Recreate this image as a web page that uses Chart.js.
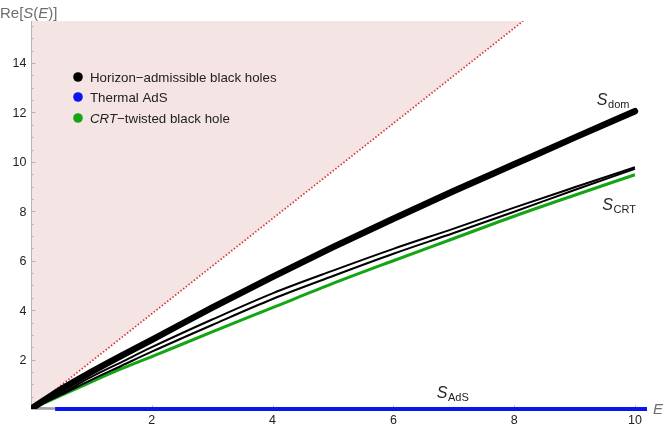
<!DOCTYPE html>
<html>
<head>
<meta charset="utf-8">
<script src="https://cdn.jsdelivr.net/npm/chart.js@4.4.1/dist/chart.umd.min.js"></script>
<style>
html, body { margin: 0; padding: 0; background: #fff; }
canvas { display: block; }
</style>
</head>
<body>
<canvas id="myChart" width="664" height="429"></canvas>
<script>
// values
const energies = [0, 0.5, 1, 1.5, 2, 3, 4, 5, 6, 7, 8, 9, 10];
const domEntropy = [0, 0.8, 1.5, 2.16, 2.8, 4.1, 5.35, 6.55, 7.7, 8.82, 9.9, 10.98, 12.05];
const branchA = [0, 0.62, 1.3, 1.9, 2.5, 3.62, 4.68, 5.6, 6.48, 7.3, 8.15, 8.97, 9.78];
const branchB = [0, 0.58, 1.18, 1.75, 2.32, 3.4, 4.45, 5.38, 6.28, 7.12, 7.98, 8.86, 9.72];
const crtEntropy = [0, 0.55, 1.1, 1.63, 2.12, 3.12, 4.1, 5.08, 6.0, 6.9, 7.8, 8.65, 9.48];
const adsEnergies = [0.4, 10.2];
const adsEntropy = [0, 0];
const ghostEnergies = [0, 0.9];
const ghostEntropy = [0.05, 0];
const boundEnergies = [0, 8.15];
const boundEntropy = [0, 15.7];

const xTicks = [2, 4, 6, 8, 10];
const yTicks = [2, 4, 6, 8, 10, 12, 14];
const legendLabels = ['Horizon\u2212admissible black holes', 'Thermal AdS', '\u2212twisted black hole'];
const legendColors = ['#000000', '#0a14f0', '#14a514'];

function pts(xs, ys) {
    return xs.map((x, i) => ({x: x, y: ys[i]}));
}

const FONT = '"Liberation Sans", Arial, sans-serif';

const axesPlugin = {
    id: 'mmaAxes',
    beforeDatasetsDraw(chart) {
        const ctx = chart.ctx;
        const a = chart.chartArea;
        const x = chart.scales.x, y = chart.scales.y;
        ctx.save();
        ctx.strokeStyle = '#b4b4b4';
        ctx.lineWidth = 1;
        const x0 = Math.round(x.getPixelForValue(0)) + 0.5;
        const y0 = Math.round(y.getPixelForValue(0)) + 0.5;
        ctx.beginPath();
        ctx.moveTo(x0, a.top);
        ctx.lineTo(x0, y0);
        ctx.moveTo(x0, y0);
        ctx.lineTo(a.right, y0);
        // ticks pointing into the plot
        for (let v = 0.5; v <= 15.5; v += 0.5) {
            const py = Math.round(y.getPixelForValue(v)) + 0.5;
            const len = (v % 2 === 0) ? 4 : 2;
            ctx.moveTo(x0, py);
            ctx.lineTo(x0 + len, py);
        }
        for (let v = 0.5; v <= 10; v += 0.5) {
            const px = Math.round(x.getPixelForValue(v)) + 0.5;
            const len = (v % 2 === 0) ? 4 : 2;
            ctx.moveTo(px, y0);
            ctx.lineTo(px, y0 - len);
        }
        ctx.stroke();

        ctx.fillStyle = '#222';
        ctx.font = '12.5px ' + FONT;
        ctx.textAlign = 'right';
        ctx.textBaseline = 'middle';
        yTicks.forEach(v => ctx.fillText(String(v), x0 - 5, y.getPixelForValue(v) + 1));
        ctx.textAlign = 'center';
        ctx.textBaseline = 'top';
        xTicks.forEach(v => ctx.fillText(String(v), x.getPixelForValue(v), y0 + 5));
        ctx.restore();
    },
    afterDraw(chart) {
        const ctx = chart.ctx;
        const x = chart.scales.x, y = chart.scales.y;
        ctx.save();
        ctx.textBaseline = 'alphabetic';
        ctx.textAlign = 'left';

        function runs(parts, px, py) {
            let cx = px;
            parts.forEach(p => {
                ctx.font = p[1] + ' ' + FONT;
                ctx.fillText(p[0], cx, py);
                cx += ctx.measureText(p[0]).width;
            });
            return cx;
        }
        // axis titles
        ctx.fillStyle = '#6e6e6e';
        runs([['Re[', '15px'], ['S', 'italic 15px'], ['(', '15px'], ['E', 'italic 15px'], [')]', '15px']], 0, 18);
        runs([['E', 'italic 15px']], 653, y.getPixelForValue(0) + 5);

        // legend
        const rows = [77, 97, 118];
        rows.forEach((ry, i) => {
            ctx.fillStyle = legendColors[i];
            ctx.beginPath();
            ctx.arc(78, ry, 4.8, 0, Math.PI * 2);
            ctx.fill();
            ctx.fillStyle = '#222';
            if (i === 2) {
                runs([['CRT', 'italic 13.3px'], [legendLabels[i], '13.3px']], 90, ry + 4.5);
            } else {
                runs([[legendLabels[i], '13.3px']], 90, ry + 4.5);
            }
        });

        // curve labels
        ctx.fillStyle = '#222';
        function sub(name, e, s) {
            const px = x.getPixelForValue(e), py = y.getPixelForValue(s);
            ctx.font = 'italic 16px ' + FONT;
            ctx.fillText('S', px, py);
            const w = ctx.measureText('S').width;
            ctx.font = '11px ' + FONT;
            ctx.fillText(name, px + w + 0.5, py + 3);
        }
        sub('dom', 9.37, 12.3);
        sub('CRT', 9.46, 8.05);
        sub('AdS', 6.72, 0.45);
        ctx.restore();
    }
};

const ctx = document.getElementById('myChart');

new Chart(ctx, {
    type: 'scatter',
    data: {
        datasets: [{
            label: 'bound',
            data: pts(boundEnergies, boundEntropy),
            showLine: true,
            borderColor: '#d42c2c',
            borderWidth: 1.7,
            borderDash: [1.4, 2],
            pointRadius: 0,
            fill: 'end',
            backgroundColor: '#f5e4e4',
            order: 6
        }, {
            label: 'ghost',
            data: pts(ghostEnergies, ghostEntropy),
            showLine: true,
            borderColor: '#a0a0a8',
            borderWidth: 2,
            pointRadius: 0,
            clip: false,
            order: 5
        }, {
            label: legendLabels[1],
            data: pts(adsEnergies, adsEntropy),
            showLine: true,
            borderColor: legendColors[1],
            borderWidth: 4,
            pointRadius: 0,
            clip: false,
            order: 4
        }, {
            label: legendLabels[2],
            data: pts(energies, crtEntropy),
            showLine: true,
            borderColor: legendColors[2],
            borderWidth: 3,
            pointRadius: 0,
            cubicInterpolationMode: 'monotone',
            order: 3
        }, {
            label: 'branch B',
            data: pts(energies, branchB),
            showLine: true,
            borderColor: '#000',
            borderWidth: 2,
            pointRadius: 0,
            cubicInterpolationMode: 'monotone',
            order: 2
        }, {
            label: 'branch A',
            data: pts(energies, branchA),
            showLine: true,
            borderColor: '#000',
            borderWidth: 2,
            pointRadius: 0,
            cubicInterpolationMode: 'monotone',
            order: 1
        }, {
            label: legendLabels[0],
            data: pts(energies, domEntropy),
            showLine: true,
            borderColor: '#000',
            borderWidth: 6.5,
            borderCapStyle: 'round',
            pointRadius: 0,
            cubicInterpolationMode: 'monotone',
            order: 0
        }]
    },
    options: {
        responsive: false,
        animation: false,
        layout: {
            padding: {left: 31, right: 17, top: 21, bottom: 20}
        },
        scales: {
            x: {
                type: 'linear',
                display: false,
                min: 0,
                max: 10.2
            },
            y: {
                type: 'linear',
                display: false,
                min: 0,
                max: 15.7
            }
        },
        plugins: {
            legend: {display: false},
            tooltip: {enabled: false},
            filler: {drawTime: 'beforeDatasetsDraw'}
        }
    },
    plugins: [axesPlugin]
});
</script>
</body>
</html>
